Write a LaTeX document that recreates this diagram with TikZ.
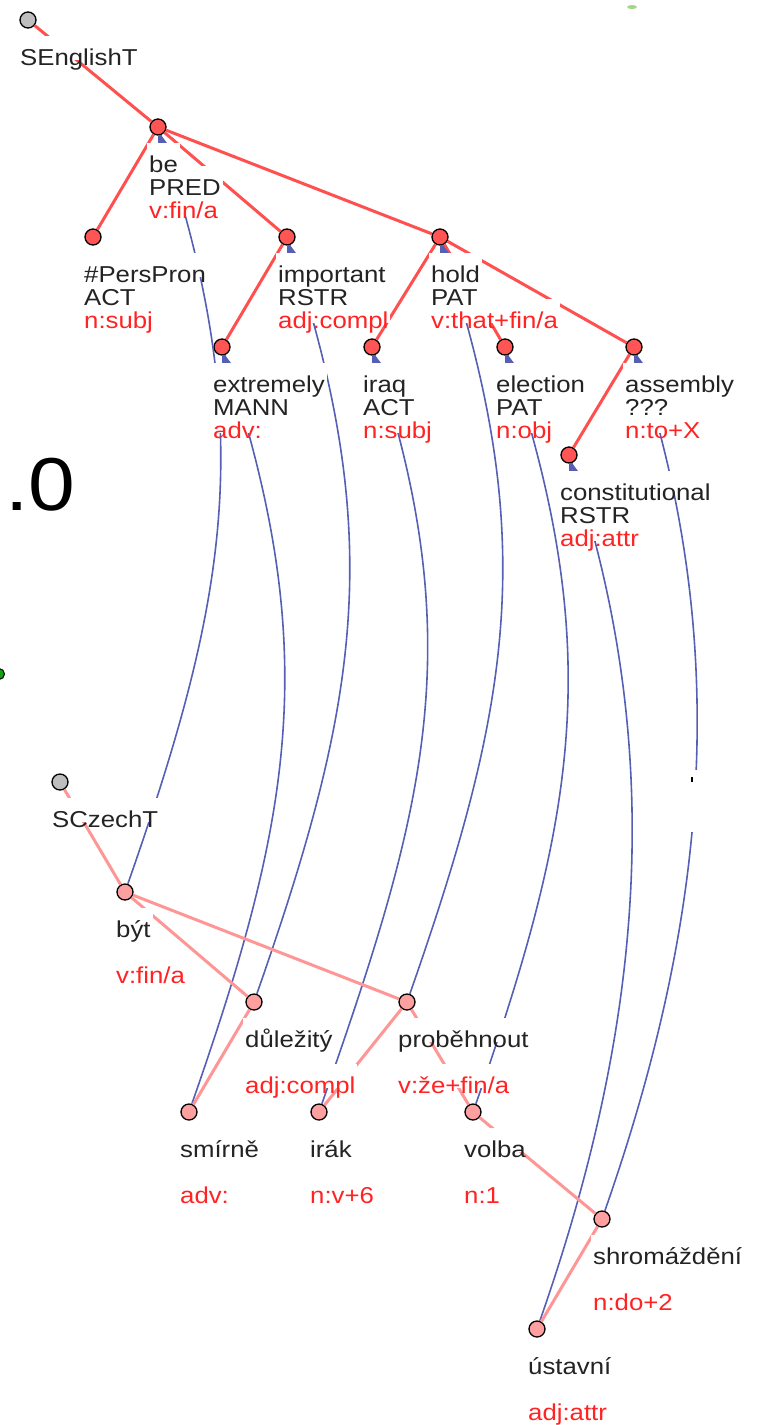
\documentclass[tikz,border=0pt]{standalone}
\usepackage{fontspec}
\newfontfamily\lblfont{Liberation Sans}[FakeStretch=1.12]
\usetikzlibrary{calc}
\definecolor{enfill}{RGB}{255,85,85}
\definecolor{czfill}{RGB}{255,160,160}
\definecolor{rootfill}{RGB}{190,190,190}
\definecolor{enedgec}{RGB}{255,80,80}
\definecolor{czedgec}{RGB}{255,150,150}
\definecolor{linkc}{RGB}{85,95,180}
\definecolor{tagc}{RGB}{255,35,35}
\definecolor{wordc}{RGB}{35,35,35}
\definecolor{dotgreen}{RGB}{20,160,20}
\definecolor{smudge}{RGB}{160,215,130}
\tikzset{
  tn/.style={circle, draw=black, line width=1.3pt, minimum size=16pt, inner sep=0pt},
  ennd/.style={tn, fill=enfill},
  cznd/.style={tn, fill=czfill},
  rootnd/.style={tn, fill=rootfill},
  enedge/.style={draw=enedgec, line width=3pt},
  czedge/.style={draw=czedgec, line width=3pt},
  alink/.style={draw=linkc, line width=1.6pt},
  lbl/.style={anchor=base west, fill=white, inner xsep=2pt, inner ysep=0pt,
    text height=24pt, text depth=0pt, font=\lblfont\fontsize{23pt}{23pt}\selectfont},
  wordl/.style={lbl, text=wordc},
  tagl/.style={lbl, text=tagc},
}
\newcommand\lowtext[1]{\raisebox{-5pt}{#1}}
\newcommand\mklink[2]{\draw[alink] (#1) .. controls +(100,300) and +(105,-300) .. (#2);}
\newcommand\mktick[1]{\fill[linkc] ($(#1.center)+(0,8)$) -- ++(3,0) -- ++(6,8) -- ++(-9,0) -- cycle;}
\newcommand\enlab[4]{%
  \node[tagl] (#1-t) at ($(#1.center)+(-11,86)$) {\lowtext{#4}};
  \node[wordl] (#1-f) at ($(#1.center)+(-11,63)$) {\lowtext{#3}};
  \node[wordl] (#1-w) at ($(#1.center)+(-11,40)$) {\lowtext{#2}};}
\newcommand\czlab[3]{%
  \node[tagl] (#1-t) at ($(#1.center)+(-11,86)$) {\lowtext{#3}};
  \node[wordl] (#1-w) at ($(#1.center)+(-11,40)$) {\lowtext{#2}};}
\begin{document}
\begin{tikzpicture}[x=1pt,y=-1pt]
\useasboundingbox (0,0) rectangle (758,1425);
% English tree nodes
\node[rootnd] (enroot) at (28,20) {};
\node[ennd] (be) at (158,127) {};
\node[ennd] (perspron) at (93,237) {};
\node[ennd] (important) at (287,237) {};
\node[ennd] (hold) at (440,237) {};
\node[ennd] (extremely) at (222,347) {};
\node[ennd] (iraq) at (372,347) {};
\node[ennd] (election) at (505,347) {};
\node[ennd] (assembly) at (634,347) {};
\node[ennd] (constitutional) at (569,455) {};
% Czech tree nodes
\node[rootnd] (czroot) at (60,782) {};
\node[cznd] (byt) at (125,892) {};
\node[cznd] (dulezity) at (254,1002) {};
\node[cznd] (probehnout) at (407,1002) {};
\node[cznd] (smirne) at (189,1112) {};
\node[cznd] (irak) at (319,1112) {};
\node[cznd] (volba) at (473,1112) {};
\node[cznd] (shromazdeni) at (602,1219) {};
\node[cznd] (ustavni) at (537,1329) {};
% alignment links
\mklink{be}{byt}
\mklink{extremely}{smirne}
\mklink{important}{dulezity}
\mklink{iraq}{irak}
\mklink{hold}{probehnout}
\mklink{election}{volba}
\mklink{assembly}{shromazdeni}
\mklink{constitutional}{ustavni}
% English edges
\draw[enedge] (enroot) -- (be);
\draw[enedge] (be) -- (perspron);
\draw[enedge] (be) -- (important);
\draw[enedge] (be) -- (hold);
\draw[enedge] (important) -- (extremely);
\draw[enedge] (hold) -- (iraq);
\draw[enedge] (hold) -- (election);
\draw[enedge] (hold) -- (assembly);
\draw[enedge] (assembly) -- (constitutional);
% Czech edges
\draw[czedge] (czroot) -- (byt);
\draw[czedge] (byt) -- (dulezity);
\draw[czedge] (byt) -- (probehnout);
\draw[czedge] (dulezity) -- (smirne);
\draw[czedge] (probehnout) -- (irak);
\draw[czedge] (probehnout) -- (volba);
\draw[czedge] (volba) -- (shromazdeni);
\draw[czedge] (shromazdeni) -- (ustavni);
% link ticks
\mktick{be}
\mktick{important}
\mktick{hold}
\mktick{extremely}
\mktick{iraq}
\mktick{election}
\mktick{assembly}
\mktick{constitutional}
% labels
\node[wordl] (enroot-w) at ($(enroot.center)+(-10,40)$) {\lowtext{SEnglishT}};
\enlab{be}{be}{PRED}{v:fin/a}
\enlab{perspron}{\#PersPron}{ACT}{n:subj}
\enlab{important}{important}{RSTR}{adj:compl}
\enlab{hold}{hold}{PAT}{v:that+fin/a}
\enlab{extremely}{extremely}{MANN}{adv:}
\enlab{iraq}{iraq}{ACT}{n:subj}
\enlab{election}{election}{PAT}{n:obj}
\enlab{assembly}{assembly}{???}{n:to+X}
\enlab{constitutional}{constitutional}{RSTR}{adj:attr}
\node[wordl] (czroot-w) at ($(czroot.center)+(-10,40)$) {\lowtext{SCzechT}};
\czlab{byt}{být}{v:fin/a}
\czlab{dulezity}{důležitý}{adj:compl}
\czlab{probehnout}{proběhnout}{v:že+fin/a}
\czlab{smirne}{smírně}{adv:}
\czlab{irak}{irák}{n:v+6}
\czlab{volba}{volba}{n:1}
\czlab{shromazdeni}{shromáždění}{n:do+2}
\czlab{ustavni}{ústavní}{adj:attr}
% stray marks of the screenshot
\node[anchor=base west, inner sep=0pt, font=\lblfont\fontsize{75pt}{75pt}\selectfont] (zero) at (5,510) {.0};
\filldraw[fill=dotgreen, draw=black, line width=1pt] (-1,674) circle (5.5);
\fill[smudge] (632,7) ellipse (5 and 2);
\fill[white] (687,770) rectangle (706,832);
\fill[black] (691,777) rectangle (693,782);
\end{tikzpicture}
\end{document}
